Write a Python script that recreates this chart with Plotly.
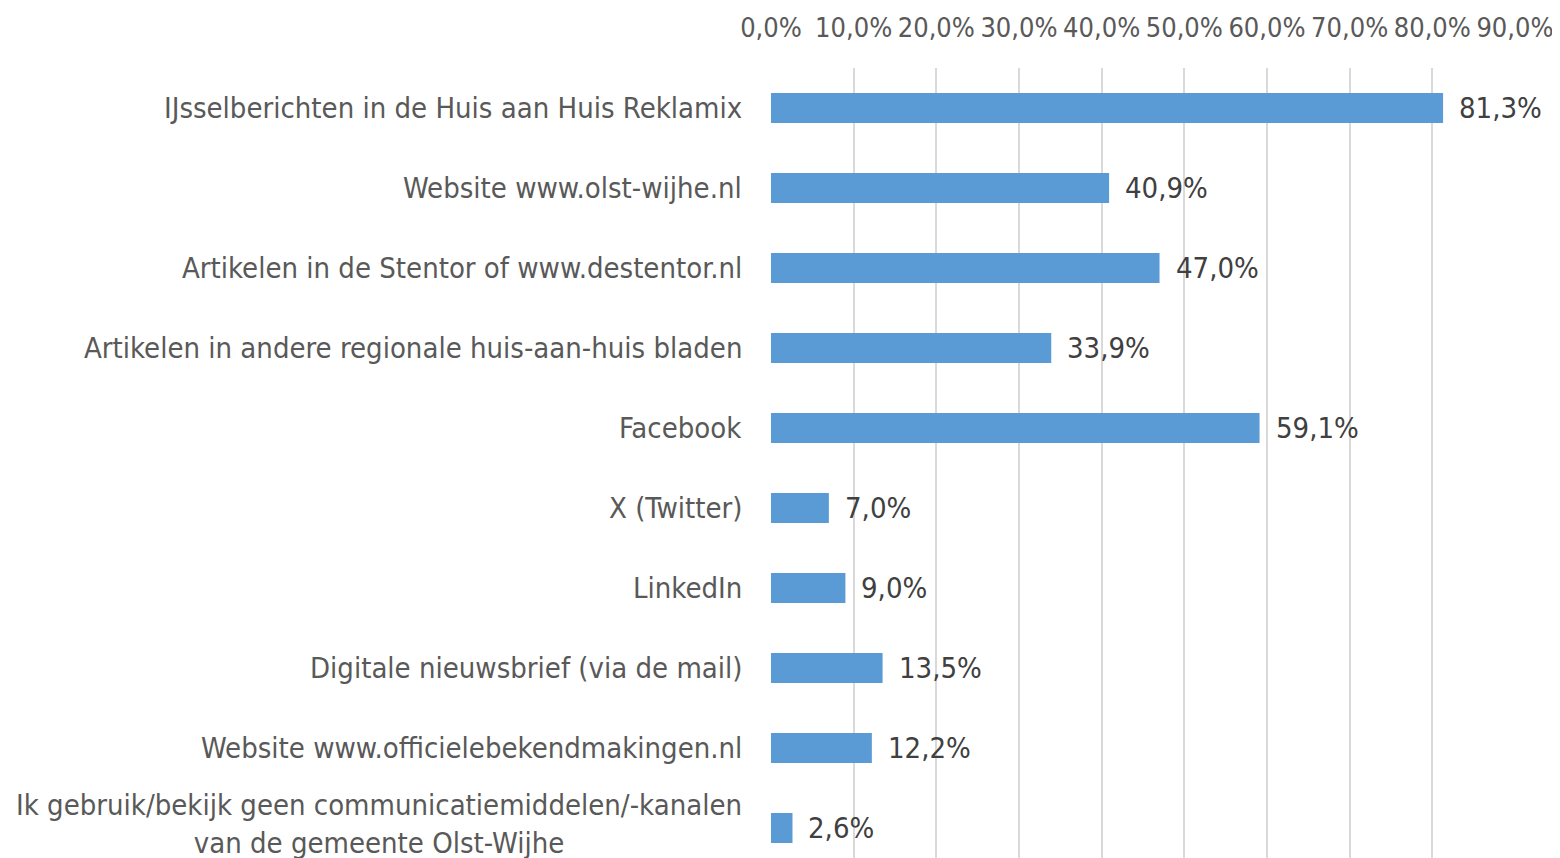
import plotly.graph_objects as go

categories = [
    "IJsselberichten in de Huis aan Huis Reklamix",
    "Website www.olst-wijhe.nl",
    "Artikelen in de Stentor of www.destentor.nl",
    "Artikelen in andere regionale huis-aan-huis bladen",
    "Facebook",
    "X (Twitter)",
    "LinkedIn",
    "Digitale nieuwsbrief (via de mail)",
    "Website www.officielebekendmakingen.nl",
    "Ik gebruik/bekijk geen communicatiemiddelen/-kanalen<br>van de gemeente Olst-Wijhe",
]
values = [0.813, 0.409, 0.470, 0.339, 0.591, 0.070, 0.090, 0.135, 0.122, 0.026]
x_ticks = [0, 0.1, 0.2, 0.3, 0.4, 0.5, 0.6, 0.7, 0.8, 0.9]

FONT = "Liberation Sans Narrow, DejaVu Sans Condensed, sans-serif"
positions = list(range(len(categories)))

fig = go.Figure()
fig.add_trace(go.Bar(
    x=values, y=positions, orientation="h",
    marker=dict(color="#5B9BD5", line=dict(width=0)),
    width=0.375, hoverinfo="skip",
))

annotations = []
for p, c, v in zip(positions, categories, values):
    annotations.append(dict(
        x=0, y=p, xref="x", yref="y", text=c, showarrow=False,
        xanchor="right", yanchor="middle", align="center", xshift=-27,
        yshift=4 if "<br>" in c else 0,
        font=dict(family=FONT, size=29, color="#595959"),
    ))
    annotations.append(dict(
        x=v, y=p, xref="x", yref="y", text=f"{v*100:.1f}%".replace(".", ","),
        showarrow=False, xanchor="left", yanchor="middle", xshift=14,
        font=dict(family=FONT, size=29, color="#404040"),
    ))

fig.update_layout(
    width=1552, height=850,
    margin=dict(l=763, r=45, t=60, b=0),
    paper_bgcolor="white", plot_bgcolor="white",
    separators=",.",
    showlegend=False,
    annotations=annotations,
    xaxis=dict(
        side="top", range=[0, 0.9], tickvals=x_ticks, tickformat=".1%",
        showgrid=True, gridcolor="#D9D9D9", gridwidth=1.5,
        zeroline=False, showline=False, ticks="",
        ticklabelstandoff=25,
        tickfont=dict(family=FONT, size=27, color="#595959"),
        fixedrange=True,
    ),
    yaxis=dict(
        range=[9.375, -0.5], showticklabels=False, showgrid=False,
        zeroline=False, showline=False, fixedrange=True,
    ),
)

fig.write_html("out.html")
